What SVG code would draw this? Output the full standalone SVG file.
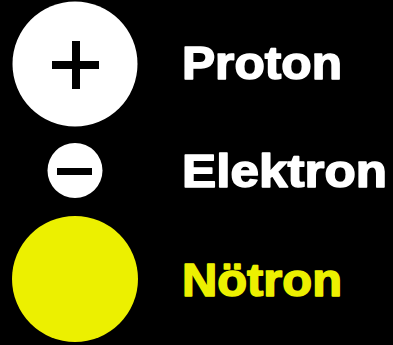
<svg xmlns="http://www.w3.org/2000/svg" width="393" height="345" viewBox="0 0 393 345">
  <style>
    .lbl { font-family: "Liberation Sans", Arial, sans-serif; font-weight: bold; font-size: 47px; stroke-width: 1.6; stroke-linejoin: round; }
    .w { fill: #ffffff; }
    .ws { fill: #ffffff; stroke: #ffffff; }
    .y { fill: #ecf000; }
    .ys { fill: #ecf000; stroke: #ecf000; }
    .mark { fill: #000000; }
  </style>
  <rect x="0" y="0" width="393" height="345" fill="#000000"/>
  <g id="proton">
    <circle cx="75" cy="64" r="62.5" class="w"/>
    <rect x="52" y="61" width="47" height="8" class="mark"/>
    <rect x="72" y="41" width="8" height="48" class="mark"/>
    <text x="182" y="79" class="lbl ws" textLength="160" lengthAdjust="spacingAndGlyphs">Proton</text>
  </g>
  <g id="elektron">
    <circle cx="75" cy="170.5" r="27.5" class="w"/>
    <rect x="57" y="168" width="35" height="7" class="mark"/>
    <text x="182" y="187" class="lbl ws" textLength="205" lengthAdjust="spacingAndGlyphs">Elektron</text>
  </g>
  <g id="notron">
    <circle cx="75" cy="279" r="63" class="y"/>
    <text x="182" y="296" class="lbl ys" textLength="160" lengthAdjust="spacingAndGlyphs">Nötron</text>
  </g>
  <g id="connectors"/>
</svg>
